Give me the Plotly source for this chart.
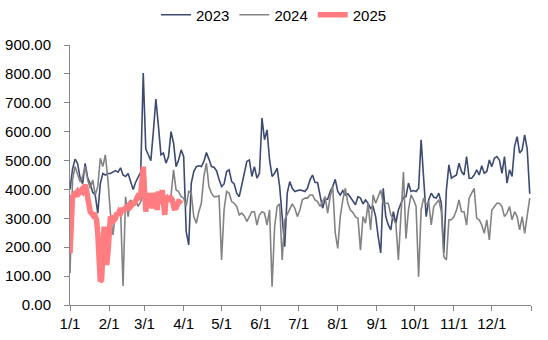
import pandas as pd
import plotly.graph_objects as go

# ---- data ----
# 2023 and 2024: one value every second day (Jan 1, Jan 3, ... Dec 31)
values_2023 = [
    400, 470, 505, 490, 440, 420, 490, 440, 420, 390, 380, 318, 420, 455, 450, 455,
    455, 460, 465, 460, 475, 450, 445, 455, 430, 400, 425, 440, 460, 803, 540, 520,
    500, 600, 713, 620, 520, 526, 491, 514, 600, 560, 479, 502, 537, 514, 254, 208,
    421, 462, 479, 482, 479, 497, 528, 505, 479, 477, 465, 435, 410, 419, 462, 468,
    427, 419, 387, 375, 422, 456, 497, 502, 445, 479, 439, 456, 647, 572, 606, 502,
    445, 456, 474, 410, 306, 202, 387, 427, 404, 393, 396, 398, 396, 393, 404, 433,
    450, 424, 424, 373, 335, 366, 366, 393, 410, 435, 393, 381, 396, 381, 385, 373,
    358, 347, 375, 370, 350, 364, 352, 335, 341, 306, 237, 180, 404, 306, 277, 260,
    323, 283, 329, 350, 373, 375, 422, 393, 396, 393, 404, 572, 422, 306, 364, 387,
    373, 370, 387, 352, 180, 398, 485, 439, 445, 450, 491, 462, 450, 514, 439, 439,
    450, 468, 450, 482, 456, 462, 502, 479, 508, 514, 502, 456, 514, 422, 468, 445,
    549, 583, 526, 537, 589, 540, 385,
]
values_2024 = [
    110, 433, 479, 456, 427, 445, 479, 433, 404, 433, 381, 410, 508, 479, 520, 433,
    318, 243, 318, 318, 335, 66, 375, 306, 364, 347, 364, 341, 358, 387, 375, 352,
    375, 364, 352, 364, 380, 370, 360, 375, 380, 468, 398, 393, 375, 370, 341, 393,
    387, 306, 283, 323, 352, 445, 491, 410, 387, 375, 375, 378, 156, 330, 393, 387,
    358, 352, 341, 312, 318, 308, 289, 306, 323, 323, 277, 312, 323, 318, 277, 329,
    63, 271, 341, 350, 156, 295, 315, 329, 350, 335, 306, 329, 364, 370, 370, 381,
    381, 364, 358, 341, 358, 375, 318, 375, 410, 250, 196, 306, 364, 404, 352, 329,
    320, 306, 300, 190, 306, 283, 352, 260, 381, 352, 375, 398, 352, 352, 352, 312,
    295, 283, 156, 329, 460, 230, 330, 381, 364, 341, 98, 329, 370, 347, 358, 277,
    341, 352, 364, 323, 167, 156, 295, 295, 306, 329, 364, 323, 323, 277, 370, 387,
    404, 300, 295, 277, 248, 295, 225, 329, 341, 352, 352, 341, 306, 318, 341, 295,
    323, 306, 260, 306, 248, 306, 370,
]
# 2025: daily values, Jan 1 to Mar 30
values_2025 = [
    179, 352, 375, 381, 375, 387, 393, 387, 393, 398, 393, 410, 416, 398, 364, 341,
    323, 318, 312, 318, 306, 295, 248, 156, 81, 87, 248, 271, 202, 139, 179, 295,
    306, 300, 306, 295, 300, 318, 312, 323, 318, 329, 329, 329, 335, 329, 341, 347,
    341, 352, 352, 352, 358, 370, 364, 387, 381, 433, 479, 398, 323, 375, 352, 387,
    364, 335, 387, 375, 387, 329, 393, 364, 352, 398, 329, 312, 364, 370, 364, 364,
    370, 364, 341, 329, 352, 347, 358, 358, 364,
]
series_names = ["2023", "2024", "2025"]
month_labels = ["1/1", "2/1", "3/1", "4/1", "5/1", "6/1", "7/1", "8/1", "9/1",
                "10/1", "11/1", "12/1", ""]

# all years plotted on a common calendar
dates_2023 = pd.date_range("2023-01-01", periods=len(values_2023), freq="2D")
dates_2024 = pd.date_range("2023-01-01", periods=len(values_2024), freq="2D")
dates_2025 = pd.date_range("2023-01-01", periods=len(values_2025), freq="D")
month_ticks = pd.date_range("2023-01-01", "2024-01-01", freq="MS")

fig = go.Figure()
fig.add_trace(go.Scatter(x=dates_2023, y=values_2023, name=series_names[0], mode="lines",
                         line=dict(color="#3D4A72", width=1.6)))
fig.add_trace(go.Scatter(x=dates_2024, y=values_2024, name=series_names[1], mode="lines",
                         line=dict(color="#838383", width=1.6)))
fig.add_trace(go.Scatter(x=dates_2025, y=values_2025, name=series_names[2], mode="lines",
                         line=dict(color="#FF7C80", width=5.5)))

axis_color = "#878787"
fig.update_layout(
    width=548, height=340,
    margin=dict(l=70, r=17, t=45, b=35, autoexpand=False),
    paper_bgcolor="white", plot_bgcolor="white",
    font=dict(family="Liberation Sans, Arial, sans-serif", size=15, color="#000000"),
    showlegend=True,
    legend=dict(orientation="h", xref="container", yref="container",
                x=0.5, xanchor="center", y=1 - 15 / 340, yanchor="middle",
                font=dict(size=15), bgcolor="rgba(0,0,0,0)", itemwidth=30,
                tracegroupgap=0),
    xaxis=dict(
        type="date", range=["2023-01-01", "2024-01-01"],
        tickmode="array", tickvals=list(month_ticks), ticktext=month_labels,
        showgrid=False, zeroline=False, automargin=False,
        showline=True, linecolor=axis_color, linewidth=1,
        ticks="outside", ticklen=5, tickcolor=axis_color, tickwidth=1,
        tickfont=dict(size=15),
    ),
    yaxis=dict(
        range=[0, 900], dtick=100, tick0=0, tickformat=".2f",
        showgrid=False, zeroline=False, automargin=False,
        showline=True, linecolor=axis_color, linewidth=1,
        ticks="outside", ticklen=5, tickcolor=axis_color, tickwidth=1,
        tickfont=dict(size=15), ticklabelstandoff=10,
    ),
)

fig.write_html("out.html")
